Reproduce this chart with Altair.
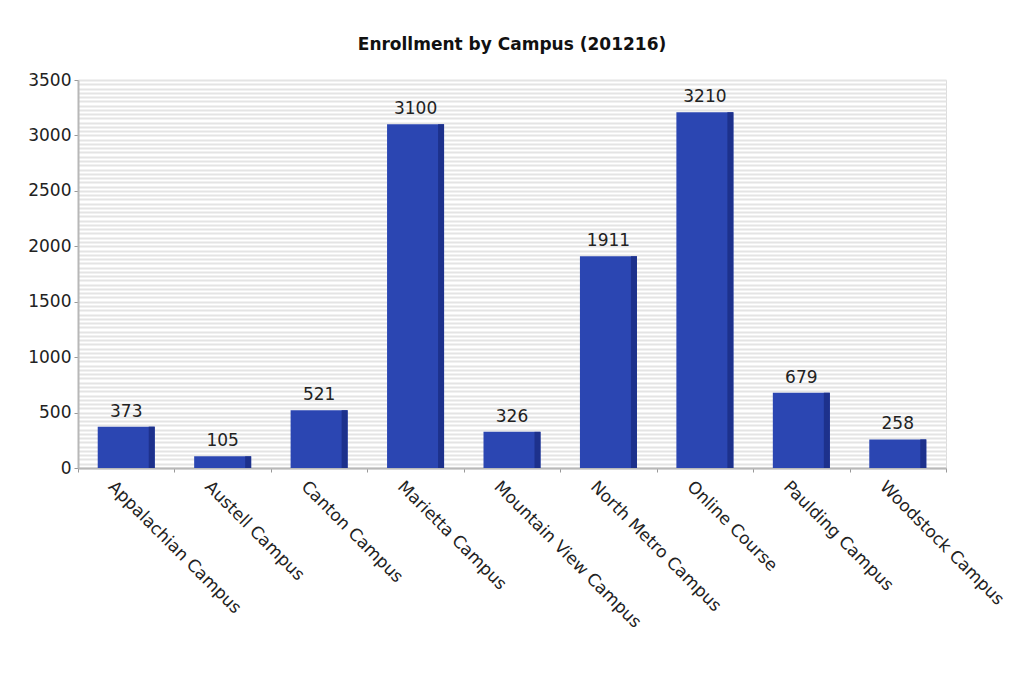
import altair as alt
import pandas as pd

campuses = [
    "Appalachian Campus", "Austell Campus", "Canton Campus", "Marietta Campus",
    "Mountain View Campus", "North Metro Campus", "Online Course",
    "Paulding Campus", "Woodstock Campus",
]
enrollment = [373, 105, 521, 3100, 326, 1911, 3210, 679, 258]

df = pd.DataFrame({"campus": campuses, "enrollment": enrollment})

FONT = "DejaVu Sans"
BAR = "#2b46b2"
SIDE = "#1d318c"
AXIS_GREY = "#b8b8b8"
TEXT = "#222222"

# fine background stripes: 13 per 500 units, labelled every 500
stripe_values = [i * 500 / 13 for i in range(0, 7 * 13 + 1)]
IS_MAJOR = "abs(datum.value / 500 - round(datum.value / 500)) < 1e-6"

x_enc = alt.X(
    "campus:N",
    sort=campuses,
    title=None,
    scale=alt.Scale(paddingInner=0, paddingOuter=0),
    axis=alt.Axis(
        labelAngle=45,
        labelAlign="left",
        labelBaseline="top",
        labelFont=FONT,
        labelFontSize=17,
        labelColor=TEXT,
        labelPadding=6,
        labelOffset=-10,
        labelLimit=400,
        tickBand="extent",
        tickColor="#999999",
        tickSize=4,
        domainColor=AXIS_GREY,
        domainWidth=2,
        grid=False,
    ),
)

y_enc = alt.Y(
    "enrollment:Q",
    title=None,
    scale=alt.Scale(domain=[0, 3500], nice=False),
    axis=alt.Axis(
        values=stripe_values,
        tickCount=1000,
        labelExpr=f"{IS_MAJOR} ? format(round(datum.value), 'd') : ''",
        labelOverlap=False,
        labelFlush=False,
        labelFont=FONT,
        labelFontSize=17,
        labelColor=TEXT,
        labelPadding=3,
        tickSize=4,
        tickColor={"condition": {"test": IS_MAJOR, "value": "#999999"},
                   "value": "transparent"},
        grid=True,
        gridColor="#e4e4e4",
        gridWidth=2,
        domainColor=AXIS_GREY,
        domainWidth=2,
    ),
)

base = alt.Chart(df)

front = base.mark_bar(color=BAR, width=57).encode(x=x_enc, y=y_enc)
side = base.mark_bar(color=SIDE, width=6, xOffset=25.5).encode(
    x=alt.X("campus:N", sort=campuses), y="enrollment:Q"
)
values = base.mark_text(
    font=FONT, fontSize=17, color=TEXT, baseline="bottom", dy=-6
).encode(x=alt.X("campus:N", sort=campuses), y="enrollment:Q",
         text=alt.Text("enrollment:Q", format="d"))

chart = (
    alt.layer(front, side, values)
    .properties(
        width=868,
        height=388,
        title=alt.TitleParams(
            "Enrollment by Campus (201216)",
            font=FONT,
            fontSize=17,
            fontWeight="bold",
            color="#111111",
            offset=17,
            anchor="middle",
        ),
        autosize=alt.AutoSizeParams(type="none"),
        padding={"left": 78, "top": 80, "right": 78, "bottom": 215},
    )
    .configure_view(stroke=None)
    .configure(background="white")
)

chart.save("out.html", embed_options={"renderer": "svg", "actions": False})
